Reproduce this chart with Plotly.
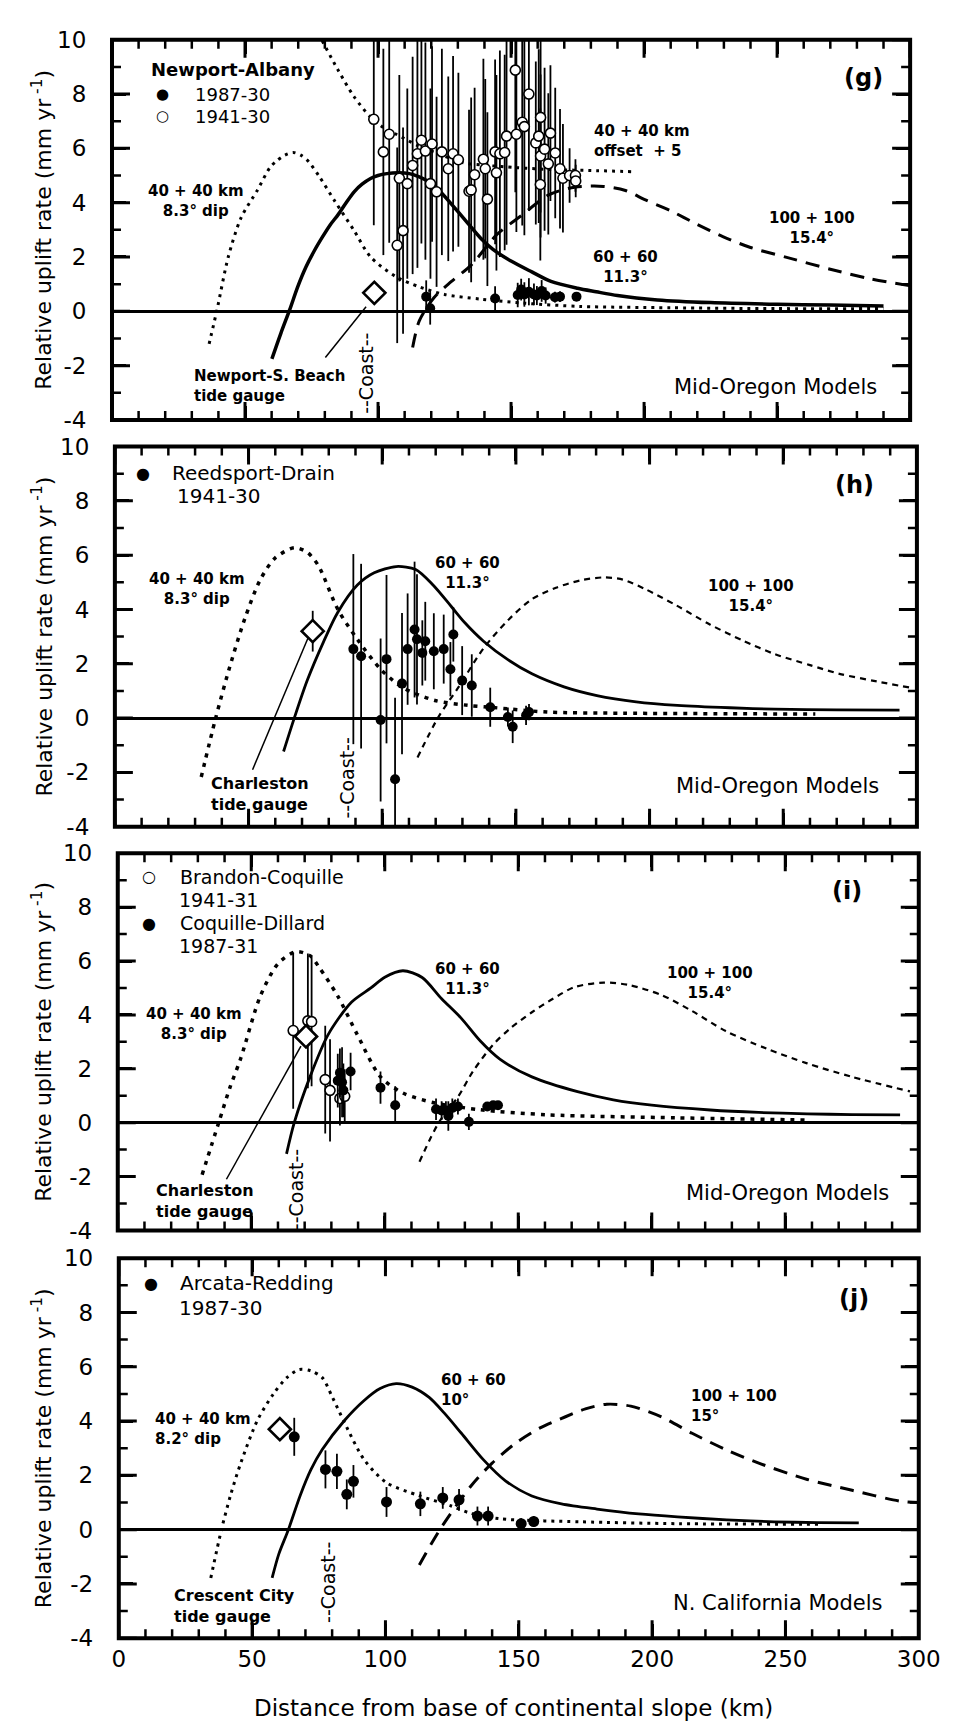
import plotly.graph_objects as go

# ---------------- shared axis values ----------------
x_range = [0, 300]
y_range = [-4, 10]
x_tick_vals = [0, 50, 100, 150, 200, 250, 300]
x_tick_text = ["0", "50", "100", "150", "200", "250", "300"]
x_minor_vals = [10, 20, 30, 40, 60, 70, 80, 90, 110, 120, 130, 140, 160, 170, 180, 190,
                210, 220, 230, 240, 260, 270, 280, 290]
y_tick_vals = [-4, -2, 0, 2, 4, 6, 8, 10]
y_tick_text = ["-4", "-2", "0", "2", "4", "6", "8", "10"]
y_minor_vals = [-3, -1, 1, 3, 5, 7, 9]
x_title = "Distance from base of continental slope (km)"
y_title = "Relative uplift rate (mm yr<sup> -1</sup>)"

# ---------------- panel (g) : Newport-Albany ----------------
g_m40_x = [36.5, 39.5, 43.7, 48.5, 54.7, 59.4, 62, 65, 68.1, 71, 74, 78, 83.8, 91, 97.2,
           106.8, 115.5, 125, 138.5, 155, 176, 210, 250, 290]
g_m40_y = [-1.2, 0.07, 2.0, 3.44, 4.47, 5.3, 5.55, 5.75, 5.85, 5.75, 5.5, 4.95, 4.05, 2.97,
           2.0, 1.27, 0.9, 0.62, 0.45, 0.3, 0.18, 0.13, 0.1, 0.1]
g_off_x = [79, 85, 91, 97.3, 103, 106.8, 115, 121.4, 132, 140, 152, 165, 182, 195.7]
g_off_y = [9.96, 8.88, 7.9, 7.14, 6.7, 6.52, 6.1, 5.85, 5.47, 5.38, 5.29, 5.22, 5.18, 5.14]
g_m60_x = [60.1, 63.5, 66.8, 69.8, 72.9, 76, 79, 82, 85, 88, 91.1, 94, 97.2, 100, 103.3,
           107.5, 111.8, 115.5, 119, 123, 128, 133.7, 138.5, 143.2, 150, 157.8, 165, 175,
           182, 190, 205, 225, 250, 270, 290]
g_m60_y = [-1.75, -0.8, 0.06, 0.9, 1.63, 2.22, 2.72, 3.18, 3.56, 4.0, 4.41, 4.68, 4.89, 5.0,
           5.07, 5.1, 5.07, 4.95, 4.77, 4.45, 3.9, 3.25, 2.7, 2.28, 1.85, 1.45, 1.1, 0.85,
           0.72, 0.58, 0.42, 0.32, 0.26, 0.23, 0.2]
g_m100_x = [113, 115.5, 121, 127.6, 135, 144.7, 154.2, 164, 173.9, 184.8, 193, 200.5, 210,
            220, 229.6, 240, 255, 270, 285, 300]
g_m100_y = [-1.33, -0.35, 0.5, 1.1, 1.7, 2.83, 3.55, 4.28, 4.57, 4.6, 4.45, 4.1, 3.7, 3.2,
            2.75, 2.35, 1.95, 1.55, 1.2, 0.94]
g_open_x = [98.4, 102, 104.2, 107.2, 108, 109.4, 111, 113, 114.8, 116.3, 117.8, 119.7, 120.3,
            122, 124, 126.4, 128.2, 130.2, 134.2, 135, 136.3, 139.6, 140.3, 141.1, 144, 144.5,
            145.8, 147.6, 148.3, 151.6, 152, 154.2, 155, 156.7, 159.3, 161.1, 160.4, 161.1,
            161, 162.6, 164, 164.8, 166.6, 168.4, 169.5, 172, 174.2, 174.3]
g_open_y = [7.07, 5.87, 6.52, 2.43, 4.9, 2.97, 4.7, 5.37, 5.8, 6.3, 5.9, 4.7, 6.16, 4.4,
            5.87, 5.25, 5.8, 5.58, 4.42, 4.47, 5.03, 5.6, 5.25, 4.13, 5.87, 5.1, 5.8, 5.85,
            6.45, 8.88, 6.52, 6.96, 6.8, 8.0, 6.2, 7.14, 6.45, 5.72, 4.67, 5.97, 5.43, 6.56,
            5.83, 5.25, 4.9, 5.0, 5.0, 4.8]
g_open_err = [3.9, 3.8, 4.0, 3.6, 3.8, 3.8, 3.5, 4.0, 4.2, 3.8, 4.0, 3.5, 3.6, 3.5, 3.8,
              3.4, 3.6, 3.2, 3.0, 3.4, 3.2, 3.7, 3.3, 3.2, 3.4, 3.6, 3.8, 3.6, 4.0, 4.5,
              3.6, 3.8, 4.0, 4.3, 3.0, 3.5, 3.2, 3.0, 2.8, 3.0, 2.6, 2.5, 2.4, 2.2, 2.0,
              1.0, 0.6, 0.6]
g_fill_x = [118.1, 119.6, 144, 152.5, 153.8, 155, 156.7, 158.6, 159.7, 161.5, 163, 166.5,
            168.4, 174.6]
g_fill_y = [0.54, 0.11, 0.47, 0.6, 0.8, 0.62, 0.72, 0.62, 0.58, 0.75, 0.58, 0.52, 0.54, 0.54]
g_fill_err = [0.6, 0.6, 0.45, 0.45, 0.4, 0.45, 0.5, 0.4, 0.35, 0.4, 0.3, 0.2, 0.2, 0.15]
g_gauge_x = [98.6]
g_gauge_y = [0.68]

# ---------------- panel (h) : Reedsport-Drain ----------------
h_m40_x = [32.3, 37.7, 43, 48.6, 54.4, 60, 67.1, 72, 76.2, 83.4, 90.7, 99.4, 107.7, 119.7,
           132, 140.4, 162, 190, 230, 262]
h_m40_y = [-2.17, 0, 1.9, 3.66, 5.1, 5.9, 6.27, 6.1, 5.6, 4.0, 2.9, 1.8, 1.12, 0.65, 0.47,
           0.4, 0.22, 0.18, 0.16, 0.15]
h_m60_x = [63.1, 67.1, 72, 78, 83.4, 90.7, 97, 105.2, 112.5, 119, 125.9, 131, 137.9, 147,
           156, 168, 180.3, 195, 210.4, 230, 246.7, 270, 293.5]
h_m60_y = [-1.23, 0, 1.4, 2.8, 3.9, 4.9, 5.35, 5.58, 5.47, 4.9, 4.1, 3.5, 2.83, 2.15, 1.63,
           1.15, 0.83, 0.6, 0.47, 0.38, 0.33, 0.3, 0.29]
h_m100_x = [113.2, 121, 128.4, 137.9, 147, 156, 165, 174.1, 182.8, 190, 198.4, 210, 222.7,
            235, 246.7, 260, 271, 285, 297.5]
h_m100_y = [-1.45, 0.04, 1.12, 2.57, 3.6, 4.38, 4.8, 5.07, 5.18, 5.1, 4.75, 4.15, 3.44,
            2.85, 2.36, 1.95, 1.63, 1.35, 1.12]
h_fill_x = [89.2, 92.1, 99.4, 101.6, 104.8, 107.4, 109.5, 112.1, 113, 115, 116.1, 119.3,
            123, 126.6, 125.5, 129.9, 133.5, 140.4, 147, 148.8, 153.8, 154.9]
h_fill_y = [2.54, 2.28, -0.07, 2.17, -2.25, 1.27, 2.54, 3.26, 2.9, 2.4, 2.83, 2.46, 2.54,
            3.08, 1.8, 1.38, 1.2, 0.4, 0.04, -0.32, 0.1, 0.22]
h_fill_err = [3.5, 3.4, 3.0, 3.1, 3.0, 2.6, 2.05, 2.5, 2.4, 1.2, 1.45, 1.4, 1.27, 1.0, 1.0,
              1.27, 1.15, 0.72, 0.35, 0.6, 0.35, 0.3]
h_gauge_x = [74]
h_gauge_y = [3.2]
h_gauge_err = [0.75]

# ---------------- panel (i) : Brandon-Coquille / Coquille-Dillard ----------------
i_m40_x = [31.6, 37.8, 42, 46.1, 53.4, 60, 66.8, 72, 75.2, 82.4, 89.7, 98.4, 106.8, 118.8,
           135.8, 161.3, 209.6, 258]
i_m40_y = [-1.93, 0, 1.3, 2.4, 4.7, 5.9, 6.35, 6.2, 5.8, 4.7, 3.27, 1.7, 1.1, 0.73, 0.48,
           0.29, 0.18, 0.1]
i_m60_x = [63.2, 66.1, 72, 78.8, 87.5, 94.8, 100, 106.8, 114, 121.3, 128.6, 135.8, 143.1,
           155.1, 172.2, 185.6, 200, 221.9, 240, 258.2, 275, 293]
i_m60_y = [-1.16, 0, 1.7, 3.27, 4.47, 5.0, 5.4, 5.64, 5.39, 4.6, 3.88, 3.03, 2.36, 1.7,
           1.15, 0.85, 0.65, 0.47, 0.38, 0.33, 0.3, 0.29]
i_m100_x = [113, 120.2, 127.5, 133, 140.6, 147, 155.1, 163, 171, 182, 192, 203.8, 215,
            227.7, 243, 258.2, 275, 296.7]
i_m100_y = [-1.45, 0, 0.97, 1.9, 2.9, 3.5, 4.1, 4.6, 5.03, 5.2, 5.1, 4.73, 4.15, 3.4, 2.75,
            2.2, 1.7, 1.16]
i_open_x = [65.7, 71.2, 72.6, 77.7, 79.5, 83.2, 85]
i_open_y = [3.42, 3.78, 3.75, 1.6, 1.2, 0.9, 0.98]
i_open_err = [2.9, 2.5, 2.4, 2.0, 1.9, 1.0, 1.0]
i_fill_x = [82.4, 83.2, 84, 84.5, 87.2, 98.4, 103.9, 119.2, 121.3, 122.9, 123.8, 125.3,
            127.4, 131.5, 138.4, 140.6, 142.4]
i_fill_y = [1.56, 1.85, 1.5, 1.2, 1.9, 1.3, 0.65, 0.5, 0.45, 0.45, 0.25, 0.55, 0.6, 0.03,
            0.6, 0.65, 0.65]
i_fill_err = [1.0, 0.9, 1.3, 1.0, 0.7, 0.6, 0.7, 0.4, 0.35, 0.35, 0.55, 0.35, 0.3, 0.3,
              0.1, 0.1, 0.1]
i_gauge_x = [70.5]
i_gauge_y = [3.2]

# ---------------- panel (j) : Arcata-Redding ----------------
j_m40_x = [34.5, 38.5, 42, 45.8, 52, 58, 63, 67.7, 72, 76.3, 80, 84.7, 92, 100.4, 112.7,
           124.7, 132, 143, 173, 210, 264]
j_m40_y = [-1.78, 0, 1.3, 2.47, 4.03, 5.0, 5.6, 5.9, 5.85, 5.6, 4.9, 3.93, 2.58, 1.73,
           1.25, 0.87, 0.6, 0.4, 0.29, 0.22, 0.2]
j_m60_x = [57.5, 60, 63.6, 68, 72, 76.3, 84.7, 92, 98, 104, 110, 116.4, 122, 128.4, 136.7,
           145, 154.9, 166, 179.3, 195, 209.5, 228, 245.8, 262, 277.5]
j_m60_y = [-1.78, -0.9, 0, 1.25, 2.2, 2.95, 4.03, 4.76, 5.2, 5.38, 5.25, 4.87, 4.3, 3.56,
           2.58, 1.8, 1.24, 0.95, 0.76, 0.58, 0.47, 0.36, 0.29, 0.26, 0.25]
j_m100_x = [112.7, 120.4, 132, 140, 149, 158, 167.3, 175, 183, 192, 203.6, 215, 227.6, 240,
            258.2, 275, 293, 300]
j_m100_y = [-1.3, 0, 1.6, 2.45, 3.2, 3.75, 4.15, 4.45, 4.62, 4.55, 4.15, 3.55, 2.95, 2.45,
            1.85, 1.45, 1.05, 1.0]
j_fill_x = [65.8, 77.5, 81.8, 85.5, 88, 100.4, 113.1, 121.5, 127.6, 134.5, 138.5, 150.9,
            155.6]
j_fill_y = [3.42, 2.22, 2.15, 1.3, 1.78, 1.02, 0.95, 1.17, 1.1, 0.5, 0.5, 0.22, 0.3]
j_fill_err = [0.7, 0.7, 0.65, 0.55, 0.6, 0.55, 0.45, 0.4, 0.4, 0.35, 0.35, 0.2, 0.2]
j_gauge_x = [60.4]
j_gauge_y = [3.7]

# ---------------- figure construction ----------------
FONT = "DejaVu Sans"
fig = go.Figure()


def axes(n):
    return ("x", "y") if n == 1 else (f"x{n}", f"y{n}")


def add_curve(n, xs, ys, width, dash):
    xa, ya = axes(n)
    fig.add_trace(go.Scatter(
        x=xs, y=ys, xaxis=xa, yaxis=ya, mode="lines",
        line=dict(color="black", width=width, dash=dash, shape="spline", smoothing=0.8),
        showlegend=False, hoverinfo="skip"))


def add_points(n, xs, ys, errs, kind, size=10):
    xa, ya = axes(n)
    if kind == "filled":
        marker = dict(symbol="circle", size=size, color="black")
    elif kind == "open":
        marker = dict(symbol="circle", size=size, color="white",
                      line=dict(color="black", width=1.6))
    else:
        marker = dict(symbol="diamond", size=size, color="white",
                      line=dict(color="black", width=2.6))
    err = None
    if errs is not None:
        err = dict(type="data", array=errs, visible=True, color="black",
                   thickness=1.8, width=0)
    fig.add_trace(go.Scatter(
        x=xs, y=ys, xaxis=xa, yaxis=ya, mode="markers", marker=marker,
        error_y=err, showlegend=False, hoverinfo="skip"))


DOT_G = "3px,5px"
DOT_H = "4px,6px"
LDASH = "14px,9px"
SDASH = "6px,5px"

add_curve(1, g_m40_x, g_m40_y, 3, DOT_G)
add_curve(1, g_off_x, g_off_y, 3, DOT_G)
add_curve(1, g_m60_x, g_m60_y, 3.5, "solid")
add_curve(1, g_m100_x, g_m100_y, 3, LDASH)
add_points(1, g_open_x, g_open_y, g_open_err, "open", 10)
add_points(1, g_fill_x, g_fill_y, g_fill_err, "filled", 10)
add_points(1, g_gauge_x, g_gauge_y, None, "gauge", 17)

add_curve(2, h_m40_x, h_m40_y, 3.5, DOT_H)
add_curve(2, h_m60_x, h_m60_y, 2.8, "solid")
add_curve(2, h_m100_x, h_m100_y, 2.2, SDASH)
add_points(2, h_fill_x, h_fill_y, h_fill_err, "filled", 10)
add_points(2, h_gauge_x, h_gauge_y, h_gauge_err, "gauge", 17)

add_curve(3, i_m40_x, i_m40_y, 3.5, DOT_H)
add_curve(3, i_m60_x, i_m60_y, 2.8, "solid")
add_curve(3, i_m100_x, i_m100_y, 2.2, SDASH)
add_points(3, i_open_x, i_open_y, i_open_err, "open", 10)
add_points(3, i_fill_x, i_fill_y, i_fill_err, "filled", 10)
add_points(3, i_gauge_x, i_gauge_y, None, "gauge", 17)

add_curve(4, j_m40_x, j_m40_y, 3, DOT_G)
add_curve(4, j_m60_x, j_m60_y, 2.8, "solid")
add_curve(4, j_m100_x, j_m100_y, 3, LDASH)
add_points(4, j_fill_x, j_fill_y, j_fill_err, "filled", 11)
add_points(4, j_gauge_x, j_gauge_y, None, "gauge", 17)

# ---------------- axes layout ----------------
x_domains = {1: [0.1043, 0.9625], 2: [0.1074, 0.9698], 3: [0.1105, 0.9718], 4: [0.1116, 0.9718]}
y_domains = {1: [0.7656, 0.9890], 2: [0.5266, 0.7500], 3: [0.2894, 0.5110], 4: [0.0498, 0.2731]}

layout = dict(
    width=959, height=1728, autosize=False,
    margin=dict(l=0, r=0, t=0, b=0),
    paper_bgcolor="white", plot_bgcolor="white",
    font=dict(family=FONT, color="black"),
    showlegend=False,
)

for n in range(1, 5):
    xa, ya = axes(n)
    xkey = "xaxis" if n == 1 else f"xaxis{n}"
    ykey = "yaxis" if n == 1 else f"yaxis{n}"
    layout[xkey] = dict(
        domain=x_domains[n], anchor=ya, range=x_range, showgrid=False, zeroline=False,
        showline=True, linecolor="black", linewidth=1, mirror="allticks",
        ticks="inside", ticklen=14, tickwidth=3, tickcolor="black",
        tickmode="array", tickvals=x_tick_vals, ticktext=x_tick_text,
        showticklabels=(n == 4),
        tickfont=dict(family=FONT, size=23, color="black"),
    )
    layout[ykey] = dict(
        domain=y_domains[n], anchor=xa, range=y_range, showgrid=False,
        zeroline=True, zerolinecolor="black", zerolinewidth=3,
        showline=True, linecolor="black", linewidth=1, mirror="allticks",
        ticks="inside", ticklen=14, tickwidth=3, tickcolor="black",
        tickmode="array", tickvals=y_tick_vals, ticktext=y_tick_text,
        ticklabelstandoff=20,
        tickfont=dict(family=FONT, size=23, color="black"),
    )

# ---------------- annotations ----------------
ann = []


def txt(n, x, y, text, size=15, bold=True, xanchor="center", align="center", angle=0):
    xa, ya = axes(n)
    ann.append(dict(
        x=x, y=y, xref=xa, yref=ya, text=text, showarrow=False,
        xanchor=xanchor, yanchor="middle", align=align, textangle=angle,
        font=dict(family=FONT, size=size, color="black",
                  weight="bold" if bold else "normal")))


for n in range(1, 5):
    lo, hi = y_domains[n]
    ann.append(dict(x=0.029, y=(lo + hi) / 2, xref="paper", yref="paper", text=y_title,
                    showarrow=False, textangle=-90, xanchor="center", yanchor="middle",
                    font=dict(family=FONT, size=22, color="black")))
ann.append(dict(x=0.536, y=0.0087, xref="paper", yref="paper", text=x_title,
                showarrow=False, xanchor="center", yanchor="middle",
                font=dict(family=FONT, size=23, color="black")))

txt(1, 13.9, 8.92, "Newport-Albany", size=18, xanchor="left")
txt(1, 19, 8.0, "●", size=15, bold=False)
txt(1, 30.3, 8.0, "1987-30", size=18, bold=False, xanchor="left")
txt(1, 19, 7.18, "○", size=15, bold=False)
txt(1, 30.3, 7.18, "1941-30", size=18, bold=False, xanchor="left")
txt(1, 282.5, 8.6, "(g)", size=24)
txt(1, 180.4, 6.27, "40 + 40 km<br>offset  + 5", xanchor="left", align="left")
txt(1, 263, 3.08, "100 + 100<br>15.4°")
txt(1, 193, 1.65, "60 + 60<br>11.3°")
txt(1, 31.7, 4.06, "40 + 40 km<br>8.3° dip")
txt(1, 30, -2.74, "Newport-S. Beach<br>tide gauge", size=15, xanchor="left", align="left")
txt(1, 95.5, -2.3, "--Coast--", size=19, bold=False, angle=-90)
txt(1, 249.3, -2.79, "Mid-Oregon Models", size=21, bold=False)

txt(2, 10.5, 9.0, "●", size=16, bold=False)
txt(2, 20.7, 9.02, "Reedsport-Drain", size=20, bold=False, xanchor="left")
txt(2, 22.5, 8.16, "1941-30", size=20, bold=False, xanchor="left")
txt(2, 276.8, 8.6, "(h)", size=24)
txt(2, 30.8, 4.75, "40 + 40 km<br>8.3° dip")
txt(2, 132, 5.35, "60 + 60<br>11.3°")
txt(2, 237.8, 4.5, "100 + 100<br>15.4°")
txt(2, 35.2, -2.79, "Charleston<br>tide gauge", size=16, xanchor="left", align="left")
txt(2, 86.7, -2.2, "--Coast--", size=19, bold=False, angle=-90)
txt(2, 248, -2.5, "Mid-Oregon Models", size=21, bold=False)

txt(3, 11.6, 9.12, "○", size=16, bold=False)
txt(3, 22.5, 9.12, "Brandon-Coquille", size=19, bold=False, xanchor="left")
txt(3, 22, 8.25, "1941-31", size=19, bold=False, xanchor="left")
txt(3, 11.6, 7.4, "●", size=16, bold=False)
txt(3, 22.5, 7.4, "Coquille-Dillard", size=19, bold=False, xanchor="left")
txt(3, 22, 6.55, "1987-31", size=19, bold=False, xanchor="left")
txt(3, 273, 8.6, "(i)", size=24)
txt(3, 28.7, 3.65, "40 + 40 km<br>8.3° dip")
txt(3, 131, 5.35, "60 + 60<br>11.3°")
txt(3, 221.9, 5.17, "100 + 100<br>15.4°")
txt(3, 13.4, -2.9, "Charleston<br>tide gauge", size=16, xanchor="left", align="left")
txt(3, 66.8, -2.5, "--Coast--", size=19, bold=False, angle=-90)
txt(3, 251, -2.6, "Mid-Oregon Models", size=21, bold=False)

txt(4, 12, 9.05, "●", size=16, bold=False)
txt(4, 22.2, 9.07, "Arcata-Redding", size=20, bold=False, xanchor="left")
txt(4, 22, 8.18, "1987-30", size=20, bold=False, xanchor="left")
txt(4, 275.6, 8.5, "(j)", size=24)
txt(4, 13, 3.7, "40 + 40 km<br>8.2° dip", xanchor="left", align="left")
txt(4, 120, 5.15, "60 + 60<br>10°", xanchor="left", align="left")
txt(4, 213.8, 4.55, "100 + 100<br>15°", xanchor="left", align="left")
txt(4, 20, -2.8, "Crescent City<br>tide gauge", size=16, xanchor="left", align="left")
txt(4, 78.2, -1.95, "--Coast--", size=19, bold=False, angle=-90)
txt(4, 246.9, -2.7, "N. California Models", size=21, bold=False)

layout["annotations"] = ann

# ---------------- shapes: tick marks, thick frames, leader lines ----------------
shapes = []
MAJOR_LEN, MINOR_LEN = 18, 9
for n in range(1, 5):
    xa, ya = axes(n)
    for vals, ln, w in ((x_tick_vals, MAJOR_LEN, 3), (x_minor_vals, MINOR_LEN, 2.5)):
        for v in vals:
            for anchor, sgn in ((y_range[0], 1), (y_range[1], -1)):
                shapes.append(dict(type="line", xref=xa, yref=ya, x0=v, x1=v,
                                   ysizemode="pixel", yanchor=anchor, y0=0, y1=sgn * ln,
                                   line=dict(color="black", width=w), layer="above"))
    for vals, ln, w in ((y_tick_vals, MAJOR_LEN, 3), (y_minor_vals, MINOR_LEN, 2.5)):
        for v in vals:
            for anchor, sgn in ((x_range[0], 1), (x_range[1], -1)):
                shapes.append(dict(type="line", xref=xa, yref=ya, y0=v, y1=v,
                                   xsizemode="pixel", xanchor=anchor, x0=0, x1=sgn * ln,
                                   line=dict(color="black", width=w), layer="above"))
    shapes.append(dict(type="rect", xref="paper", yref="paper",
                       x0=x_domains[n][0], x1=x_domains[n][1],
                       y0=y_domains[n][0], y1=y_domains[n][1],
                       line=dict(color="black", width=4), fillcolor="rgba(0,0,0,0)"))

leaders = [(1, 95.5, 0.17, 80.2, -1.7), (2, 72.2, 2.94, 51.5, -1.9), (3, 68.6, 2.84, 40.7, -2.1)]
for n, x0, y0, x1, y1 in leaders:
    xa, ya = axes(n)
    shapes.append(dict(type="line", xref=xa, yref=ya, x0=x0, y0=y0, x1=x1, y1=y1,
                       line=dict(color="black", width=1.5)))
layout["shapes"] = shapes

fig.update_layout(**layout)
fig.write_html("out.html")
